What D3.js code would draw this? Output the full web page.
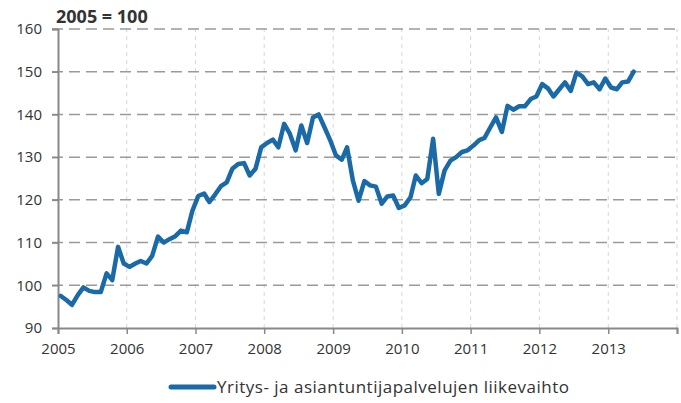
<!DOCTYPE html>
<html>
<head>
<meta charset="utf-8">
<script src="https://cdn.jsdelivr.net/npm/d3@7"></script>
<style>
  body { margin: 0; background: #fff; }
  text { font-family: "Open Sans", "DejaVu Sans", sans-serif; fill: #333; }
</style>
</head>
<body>
<script>
// Monthly index values, 2005 = 100 (Jan 2005 - May 2013)
const v2005 = [97.5, 96.5, 95.4, 97.7, 99.5, 98.7, 98.4, 98.4, 102.8, 101.2, 109.0, 105.1];
const v2006 = [104.3, 105.1, 105.7, 105.1, 106.9, 111.4, 110.0, 110.8, 111.5, 112.8, 112.4, 117.5];
const v2007 = [120.9, 121.5, 119.5, 121.3, 123.2, 124.1, 127.3, 128.4, 128.6, 125.7, 127.3, 132.3];
const v2008 = [133.3, 134.1, 132.3, 137.8, 135.5, 131.6, 137.4, 133.3, 139.3, 140.0, 137.0, 134.0];
const v2009 = [130.4, 129.4, 132.3, 124.5, 119.8, 124.4, 123.4, 123.1, 119.1, 120.8, 121.0, 118.1];
const v2010 = [118.7, 120.6, 125.7, 123.9, 124.9, 134.3, 121.4, 126.9, 129.2, 130.0, 131.2, 131.6];
const v2011 = [132.7, 134.0, 134.5, 137.0, 139.3, 135.9, 142.0, 141.1, 141.9, 141.9, 143.6, 144.2];
const v2012 = [147.1, 146.1, 144.2, 145.9, 147.5, 145.5, 149.8, 148.9, 147.1, 147.5, 145.9, 148.4];
const v2013 = [146.3, 145.9, 147.5, 147.7, 150.0];

const years = [2005, 2006, 2007, 2008, 2009, 2010, 2011, 2012, 2013, 2014];
const yTicks = [90, 100, 110, 120, 130, 140, 150, 160];
const title = "2005 = 100";
const seriesName = "Yritys- ja asiantuntijapalvelujen liikevaihto";

const values = [].concat(v2005, v2006, v2007, v2008, v2009, v2010, v2011, v2012, v2013);
const data = values.map((v, i) => ({ date: new Date(2005, i, 16), value: v }));

const width = 681, height = 403;
const margin = { top: 29, right: 4, bottom: 75, left: 58 };

const svg = d3.select("body").append("svg")
  .attr("width", width)
  .attr("height", height);

const x = d3.scaleTime()
  .domain([new Date(2005, 0, 1), new Date(2014, 0, 1)])
  .range([margin.left, width - margin.right]);
const y = d3.scaleLinear()
  .domain([90, 160])
  .range([height - margin.bottom, margin.top]);

// vertical light grid at years
svg.append("g")
  .selectAll("line")
  .data(years.slice(1))
  .join("line")
  .attr("x1", d => x(new Date(d, 0, 1)))
  .attr("x2", d => x(new Date(d, 0, 1)))
  .attr("y1", y(90))
  .attr("y2", y(160))
  .attr("stroke", "#d6d6d6")
  .attr("stroke-width", 1)
  .attr("stroke-dasharray", "4,4");

// horizontal dashed grid
svg.append("g")
  .selectAll("line")
  .data(yTicks.slice(1))
  .join("line")
  .attr("x1", margin.left - 6)
  .attr("x2", width - 6)
  .attr("y1", d => y(d))
  .attr("y2", d => y(d))
  .attr("stroke", "#9a9a9a")
  .attr("stroke-width", 1.5)
  .attr("stroke-dasharray", "11,6");

// y axis
const yAxis = svg.append("g")
  .attr("transform", "translate(" + margin.left + ",0)")
  .call(d3.axisLeft(y).tickValues(yTicks).tickSize(6).tickPadding(10));
yAxis.select(".domain").attr("stroke", "#888").attr("stroke-width", 2);
yAxis.selectAll(".tick line").attr("stroke", "#888").attr("stroke-width", 1.5);
yAxis.selectAll("text").style("font-size", "15px").attr("fill", "#333");

// x axis
const xAxis = svg.append("g")
  .attr("transform", "translate(0," + y(90) + ")")
  .call(d3.axisBottom(x)
    .tickValues(years.map(d => new Date(d, 0, 1)))
    .tickFormat(d => d.getFullYear() < 2014 ? d.getFullYear() : "")
    .tickSize(6).tickPadding(9));
xAxis.select(".domain").attr("stroke", "#888").attr("stroke-width", 2);
xAxis.selectAll(".tick line").attr("stroke", "#888").attr("stroke-width", 1.5);
xAxis.selectAll("text").style("font-size", "15px").attr("fill", "#333");

// line
const line = d3.line()
  .x(d => x(d.date))
  .y(d => y(d.value));

svg.append("path")
  .datum(data)
  .attr("fill", "none")
  .attr("stroke", "#1a6aa7")
  .attr("stroke-width", 4.5)
  .attr("stroke-linejoin", "round")
  .attr("stroke-linecap", "round")
  .attr("d", line);

// title
svg.append("text")
  .attr("x", 56)
  .attr("y", 23)
  .style("font-size", "18px")
  .style("font-weight", "bold")
  .attr("fill", "#222")
  .text(title);

// legend
svg.append("line")
  .attr("x1", 171)
  .attr("x2", 214)
  .attr("y1", 387)
  .attr("y2", 387)
  .attr("stroke", "#1a6aa7")
  .attr("stroke-width", 5)
  .attr("stroke-linecap", "round");
svg.append("text")
  .attr("x", 217)
  .attr("y", 393)
  .style("font-size", "17px")
  .style("letter-spacing", "0.5px")
  .text(seriesName);
</script>
</body>
</html>
